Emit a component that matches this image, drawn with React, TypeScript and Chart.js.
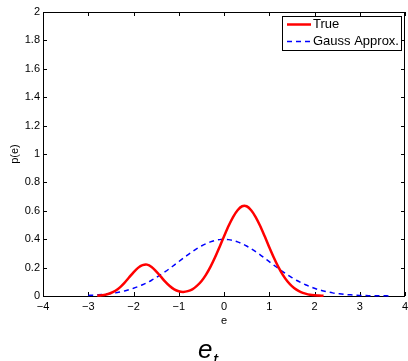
import React, { useEffect, useRef } from "react";
import { Chart, registerables } from "chart.js";

Chart.register(...registerables);

const trueX = [-2.8, -2.7, -2.6, -2.5, -2.4, -2.3, -2.2, -2.1, -2.0, -1.9, -1.8, -1.7, -1.6, -1.5, -1.4, -1.3, -1.2, -1.1, -1.0, -0.9, -0.8, -0.7, -0.6, -0.5, -0.4, -0.3, -0.2, -0.1, 0.0, 0.1, 0.2, 0.3, 0.4, 0.5, 0.6, 0.7, 0.8, 0.9, 1.0, 1.1, 1.2, 1.3, 1.4, 1.5, 1.6, 1.7, 1.8, 1.9, 2.0, 2.1, 2.2];
const trueY = [0.002, 0.005, 0.011, 0.021, 0.037, 0.061, 0.093, 0.130, 0.167, 0.198, 0.217, 0.221, 0.205, 0.174, 0.138, 0.101, 0.070, 0.047, 0.033, 0.029, 0.034, 0.047, 0.071, 0.104, 0.149, 0.205, 0.271, 0.344, 0.420, 0.493, 0.556, 0.604, 0.632, 0.632, 0.604, 0.556, 0.493, 0.420, 0.344, 0.271, 0.205, 0.149, 0.104, 0.070, 0.045, 0.028, 0.017, 0.009, 0.005, 0.003, 0.001];

const gaussX = [-3.0, -2.9, -2.8, -2.7, -2.6, -2.5, -2.4, -2.3, -2.2, -2.1, -2.0, -1.9, -1.8, -1.7, -1.6, -1.5, -1.4, -1.3, -1.2, -1.1, -1.0, -0.9, -0.8, -0.7, -0.6, -0.5, -0.4, -0.3, -0.2, -0.1, 0.0, 0.1, 0.2, 0.3, 0.4, 0.5, 0.6, 0.7, 0.8, 0.9, 1.0, 1.1, 1.2, 1.3, 1.4, 1.5, 1.6, 1.7, 1.8, 1.9, 2.0, 2.1, 2.2, 2.3, 2.4, 2.5, 2.6, 2.7, 2.8, 2.9, 3.0, 3.1, 3.2, 3.3, 3.4, 3.5, 3.6, 3.7];
const gaussY = [0.004, 0.006, 0.008, 0.010, 0.014, 0.018, 0.022, 0.028, 0.035, 0.044, 0.054, 0.066, 0.079, 0.094, 0.111, 0.130, 0.150, 0.171, 0.194, 0.218, 0.242, 0.266, 0.290, 0.312, 0.333, 0.352, 0.368, 0.381, 0.391, 0.397, 0.399, 0.397, 0.391, 0.381, 0.368, 0.352, 0.333, 0.312, 0.290, 0.266, 0.242, 0.218, 0.194, 0.171, 0.150, 0.130, 0.111, 0.094, 0.079, 0.066, 0.054, 0.044, 0.035, 0.028, 0.022, 0.018, 0.014, 0.010, 0.008, 0.006, 0.004, 0.003, 0.002, 0.002, 0.001, 0.001, 0.001, 0.000];

const seriesLabels = ["True", "Gauss Approx."];
const xAxisLabel = "e";
const yAxisLabel = "p(e)";
const titleMain = "e";
const titleSub = "t";

const FONT = "'Liberation Sans', Arial, Helvetica, sans-serif";

const framePlugin = {
  id: "frame",
  beforeDatasetsDraw(chart: any) {
    const { ctx, chartArea } = chart;
    const { left, right, top, bottom } = chartArea;
    const xs = chart.scales.x;
    const ys = chart.scales.y;
    ctx.save();
    ctx.strokeStyle = "#000";
    ctx.lineWidth = 1;
    ctx.strokeRect(Math.round(left) + 0.5, Math.round(top) + 0.5, Math.round(right - left) - 1, Math.round(bottom - top));
    ctx.beginPath();
    const tl = 4;
    xs.ticks.forEach((t: any) => {
      const px = Math.round(xs.getPixelForValue(t.value)) + 0.5;
      ctx.moveTo(px, bottom);
      ctx.lineTo(px, bottom - tl);
      ctx.moveTo(px, top);
      ctx.lineTo(px, top + tl);
    });
    ys.ticks.forEach((t: any) => {
      const py = Math.round(ys.getPixelForValue(t.value)) + 0.5;
      ctx.moveTo(left, py);
      ctx.lineTo(left + tl, py);
      ctx.moveTo(right, py);
      ctx.lineTo(right - tl, py);
    });
    ctx.stroke();
    ctx.restore();
  },
  afterDraw(chart: any) {
    const { ctx, chartArea } = chart;
    const { left, right, top, bottom } = chartArea;
    ctx.save();
    ctx.fillStyle = "#000";
    ctx.font = `11px ${FONT}`;
    ctx.textAlign = "center";
    ctx.textBaseline = "middle";
    ctx.fillText(xAxisLabel, (left + right) / 2, 321);
    ctx.save();
    ctx.translate(15, (top + bottom) / 2);
    ctx.rotate(-Math.PI / 2);
    ctx.fillText(yAxisLabel, 0, 0);
    ctx.restore();
    ctx.textAlign = "left";
    ctx.textBaseline = "alphabetic";
    ctx.font = `italic 26px ${FONT}`;
    ctx.fillText(titleMain, 198, 358);
    ctx.font = `italic 18px ${FONT}`;
    ctx.fillText(titleSub, 213, 366);
    const bx = 282, by = 16, bw = 119, bh = 34;
    ctx.fillStyle = "#fff";
    ctx.fillRect(bx, by, bw, bh);
    ctx.strokeStyle = "#000";
    ctx.lineWidth = 1;
    ctx.strokeRect(bx + 0.5, by + 0.5, bw, bh);
    const ds = chart.data.datasets;
    const rows = [24.5, 41.5];
    ds.forEach((d: any, i: number) => {
      ctx.beginPath();
      ctx.strokeStyle = d.borderColor;
      ctx.lineWidth = d.borderWidth;
      ctx.setLineDash(d.borderDash || []);
      ctx.moveTo(287, rows[i]);
      ctx.lineTo(311, rows[i]);
      ctx.stroke();
      ctx.setLineDash([]);
      ctx.fillStyle = "#000";
      ctx.font = `13px ${FONT}`;
      ctx.textBaseline = "middle";
      ctx.fillText(d.label, 313, rows[i]);
    });
    ctx.restore();
  },
};

export default function App() {
  const ref = useRef<HTMLCanvasElement>(null);
  useEffect(() => {
    if (!ref.current) return;
    const chart = new Chart(ref.current, {
      type: "line",
      data: {
        datasets: [
          {
            label: seriesLabels[0],
            data: trueX.map((x, i) => ({ x, y: trueY[i] })),
            borderColor: "#ff0000",
            borderWidth: 2.5,
            pointRadius: 0,
            tension: 0.3,
            fill: false,
            clip: false as any,
          },
          {
            label: seriesLabels[1],
            data: gaussX.map((x, i) => ({ x, y: gaussY[i] })),
            borderColor: "#0000ff",
            borderWidth: 1.5,
            borderDash: [5, 4],
            pointRadius: 0,
            tension: 0.3,
            fill: false,
            clip: false as any,
          },
        ],
      },
      options: {
        responsive: false,
        animation: false,
        layout: { padding: { top: 12, right: 3, left: 0, bottom: 0 }, autoPadding: false } as any,
        plugins: { legend: { display: false }, tooltip: { enabled: false }, title: { display: false } },
        scales: {
          x: {
            type: "linear",
            min: -4,
            max: 4,
            grid: { display: false, drawTicks: false },
            border: { display: false },
            ticks: {
              stepSize: 1,
              padding: 4,
              color: "#000",
              font: { family: FONT, size: 11 },
              maxRotation: 0,
              callback: (v: any) => (v < 0 ? "\u2212" + Math.abs(v) : String(v)),
            },
            afterFit: (s: any) => {
              s.height = 65;
              s.paddingLeft = 0;
              s.paddingRight = 0;
            },
          },
          y: {
            type: "linear",
            min: 0,
            max: 2,
            grid: { display: false, drawTicks: false },
            border: { display: false },
            ticks: {
              stepSize: 0.2,
              padding: 3,
              color: "#000",
              font: { family: FONT, size: 11 },
              callback: (v: any) => String(Number(Number(v).toFixed(1))),
            },
            afterFit: (s: any) => {
              s.width = 43;
              s.paddingTop = 0;
              s.paddingBottom = 0;
            },
          },
        },
      },
      plugins: [framePlugin],
    });
    return () => chart.destroy();
  }, []);
  return (
    <canvas
      ref={ref}
      width={408}
      height={361}
      style={{ position: "absolute", left: 0, top: 0, width: 408, height: 361 }}
    />
  );
}
